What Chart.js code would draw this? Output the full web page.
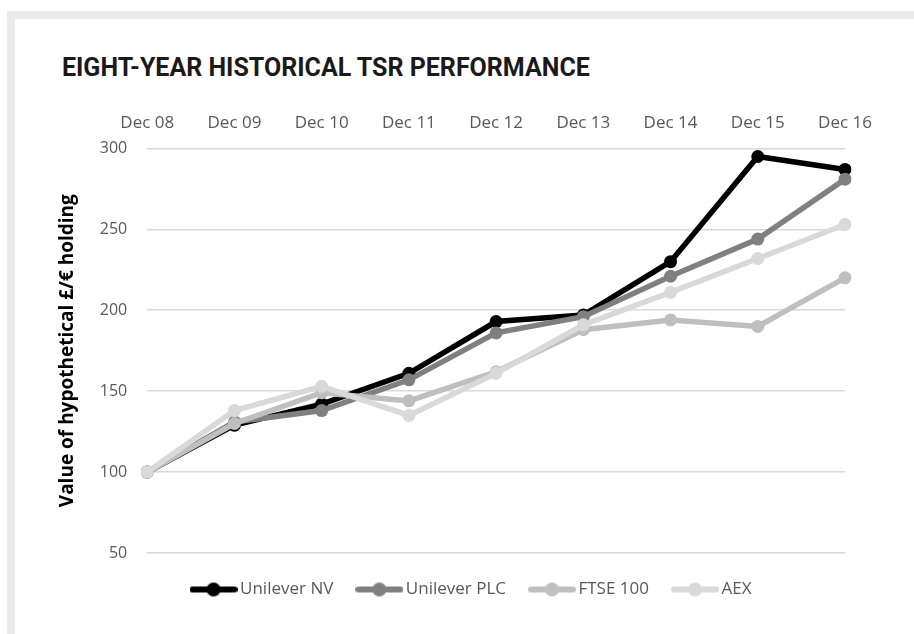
<!DOCTYPE html>
<html>
<head>
<meta charset="utf-8">
<script src="https://cdn.jsdelivr.net/npm/chart.js@4.4.1/dist/chart.umd.min.js"></script>
<style>
  html, body { margin: 0; padding: 0; background: #fff; }
  #wrap { position: relative; width: 914px; height: 634px; overflow: hidden; }
  .band { position: absolute; background: #ebebeb; }
  #title {
    position: absolute; left: 62px; top: 55px; margin: 0;
    font: bold 25px Roboto, sans-serif; line-height: 25px;
    color: #1a1a1a; white-space: nowrap;
  }
  #myChart { position: absolute; left: 0; top: 0; }
</style>
</head>
<body>
<div id="wrap">
  <div class="band" style="left:7px; top:11px; width:907px; height:8px;"></div>
  <div class="band" style="left:7px; top:11px; width:8px; height:623px;"></div>
  <h1 id="title">EIGHT-YEAR HISTORICAL TSR PERFORMANCE</h1>
  <canvas id="myChart" width="914" height="634"></canvas>
</div>
<script>
"use strict";

// data

const years = ["Dec 08", "Dec 09", "Dec 10", "Dec 11", "Dec 12", "Dec 13", "Dec 14", "Dec 15", "Dec 16"];
const seriesNames = ["Unilever NV", "Unilever PLC", "FTSE 100", "AEX"];
const unileverNV = [100, 129, 142, 161, 193, 197, 230, 295, 287];
const unileverPLC = [100, 131, 138, 157, 186, 196, 221, 244, 281];
const ftse100 = [100, 130, 149, 144, 162, 188, 194, 190, 220];
const aex = [100, 138, 153, 135, 161, 191, 211, 232, 253];
const yTicks = [50, 100, 150, 200, 250, 300];

const colors = ["#000000", "#808080", "#bfbfbf", "#d9d9d9"];
const allValues = [unileverNV, unileverPLC, ftse100, aex];

// little line + dot picture for the legend

function legendMark(color) {
  const c = document.createElement("canvas");
  c.width = 48;
  c.height = 16;
  const ctx = c.getContext("2d");
  ctx.strokeStyle = color;
  ctx.lineWidth = 6;
  ctx.lineCap = "round";
  ctx.beginPath();
  ctx.moveTo(3, 8);
  ctx.lineTo(45, 8);
  ctx.stroke();
  ctx.fillStyle = color;
  ctx.beginPath();
  ctx.arc(24, 8, 7, 0, Math.PI * 2);
  ctx.fill();
  return c;
}

const marks = colors.map(legendMark);

const datasets = [];
for (let i = 0; i < seriesNames.length; i++) {
  datasets.push({
    label: seriesNames[i],
    data: allValues[i],
    borderColor: colors[i],
    backgroundColor: colors[i],
    borderWidth: 5.5,
    pointRadius: 6.5,
    pointHoverRadius: 6.5,
    pointBorderWidth: 0,
    tension: 0,
    order: seriesNames.length - i   // later series on top
  });
}

// move the legend row a bit to the right, like the original
const legendShift = {
  id: "legendShift",
  afterLayout(chart) {
    chart.legend.left += 24;
    chart.legend.right += 24;
  }
};

const config = {
  type: "line",
  data: {
    labels: years,
    datasets: datasets
  },
  plugins: [legendShift],
  options: {
    responsive: false,
    animation: false,
    layout: {
      padding: { left: 54, right: 69, top: 98, bottom: 26 }
    },
    scales: {
      x: {
        position: "top",
        offset: false,
        grid: { display: false, drawTicks: false },
        border: { display: false },
        ticks: {
          color: "#595959",
          font: { family: "'Open Sans'", size: 17 },
          padding: 15,
          maxRotation: 0,
          autoSkip: false
        }
      },
      y: {
        min: 50,
        max: 300,
        afterBuildTicks: function (axis) {
          axis.ticks = yTicks.map(v => ({ value: v }));
        },
        grid: { color: "#d9d9d9", lineWidth: 1.5, drawTicks: false },
        border: { display: false },
        ticks: {
          color: "#595959",
          font: { family: "'Open Sans'", size: 16 },
          padding: 20
        },
        title: {
          display: true,
          text: "Value of hypothetical £/€ holding",
          color: "#000000",
          font: { family: "'Open Sans'", size: 19, weight: "bold" },
          padding: { top: 2, bottom: 1 }
        }
      }
    },
    plugins: {
      title: { display: false },
      tooltip: { enabled: false },
      legend: {
        position: "bottom",
        labels: {
          usePointStyle: true,
          pointStyleWidth: 36,
          padding: 28,
          color: "#595959",
          font: { family: "'Open Sans'", size: 17 },
          sort: (a, b) => a.datasetIndex - b.datasetIndex,
          generateLabels: function (chart) {
            const items = Chart.defaults.plugins.legend.labels.generateLabels(chart);
            items.forEach(item => {
              item.pointStyle = marks[item.datasetIndex];
            });
            return items;
          }
        }
      }
    }
  }
};

const myChart = new Chart(document.getElementById("myChart"), config);
</script>
</body>
</html>
